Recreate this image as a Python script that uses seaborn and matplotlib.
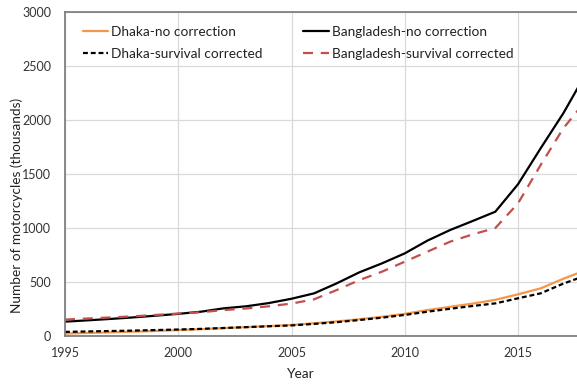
import matplotlib
matplotlib.use("Agg")
import matplotlib.pyplot as plt
import seaborn as sns
import pandas as pd

years = list(range(1995, 2019))
dhaka_no_corr = [22, 28, 34, 40, 47, 55, 63, 73, 82, 92, 102, 118, 135, 155, 178,
                 205, 240, 270, 300, 335, 386, 441, 530, 610]
dhaka_surv_corr = [38, 42, 46, 50, 55, 60, 66, 74, 82, 90, 98, 112, 128, 148, 170,
                   195, 225, 252, 278, 302, 349, 395, 485, 560]
bd_no_corr = [133, 145, 158, 172, 188, 205, 225, 256, 275, 305, 345, 395, 488, 590,
              673, 765, 883, 981, 1065, 1151, 1405, 1738, 2062, 2430]
bd_surv_corr = [152, 162, 172, 182, 195, 208, 220, 240, 255, 275, 300, 340, 426, 518,
                596, 688, 781, 873, 941, 1000, 1228, 1583, 1923, 2180]

series_names = ["Dhaka-no correction", "Dhaka-survival corrected",
                "Bangladesh-no correction", "Bangladesh-survival corrected"]
series_values = [dhaka_no_corr, dhaka_surv_corr, bd_no_corr, bd_surv_corr]

x_ticks = [1995, 2000, 2005, 2010, 2015]
y_ticks = [0, 500, 1000, 1500, 2000, 2500, 3000]

frames = [pd.DataFrame({"Year": years, "Value": vals, "Series": name})
          for name, vals in zip(series_names, series_values)]
df = pd.concat(frames, ignore_index=True)

palette = {
    "Dhaka-no correction": "#F79646",
    "Dhaka-survival corrected": "#000000",
    "Bangladesh-no correction": "#000000",
    "Bangladesh-survival corrected": "#C0504D",
}
dashes = {
    "Dhaka-no correction": "",
    "Dhaka-survival corrected": (2.2, 1.3),
    "Bangladesh-no correction": "",
    "Bangladesh-survival corrected": (4.5, 3.5),
}

sns.set_theme(style="whitegrid")
plt.rcParams["font.family"] = ["Lato", "DejaVu Sans"]

fig = plt.figure(figsize=(5.77, 3.85), dpi=100)
ax_w = 1 - 65 / 577 + 0.02
ax = fig.add_axes([65 / 577, 49 / 385, ax_w, 324 / 385])
ax_w_px = ax_w * 577

sns.lineplot(data=df, x="Year", y="Value", hue="Series", style="Series",
             hue_order=series_names, style_order=series_names,
             palette=palette, dashes=dashes, linewidth=1.6, ax=ax)

ax.set_xlim(1995, 1995 + ax_w_px / 22.65)
ax.set_ylim(0, 3000)
ax.set_xticks(x_ticks)
ax.set_yticks(y_ticks)
ax.tick_params(axis="both", length=0, labelsize=9, colors="#333333")
ax.tick_params(axis="y", pad=10)
ax.tick_params(axis="x", pad=8)
ax.set_xlabel("Year", fontsize=9.8, color="#222222")
ax.set_ylabel("Number of motorcycles (thousands)", fontsize=9.8, color="#222222")
ax.xaxis.set_label_coords((301 - 65) / ax_w_px, (336 - 368) / 324)
ax.yaxis.set_label_coords((23 - 65) / ax_w_px, (336 - 205) / 324)
ax.grid(True, color="#d9d9d9", linewidth=0.9)
for side in ["left", "bottom", "top"]:
    ax.spines[side].set_visible(True)
    ax.spines[side].set_color("#808080")
    ax.spines[side].set_linewidth(1.3)
ax.spines["right"].set_visible(False)

ax.legend(ncol=2, frameon=False, fontsize=9.8, loc="upper left",
          bbox_to_anchor=(6 / ax_w_px, 1 - 2 / 324), handlelength=1.9,
          handletextpad=0.2, columnspacing=3.0, labelspacing=0.75,
          borderaxespad=0.45, labelcolor="#222222")

fig.savefig("out.png", dpi=100)
